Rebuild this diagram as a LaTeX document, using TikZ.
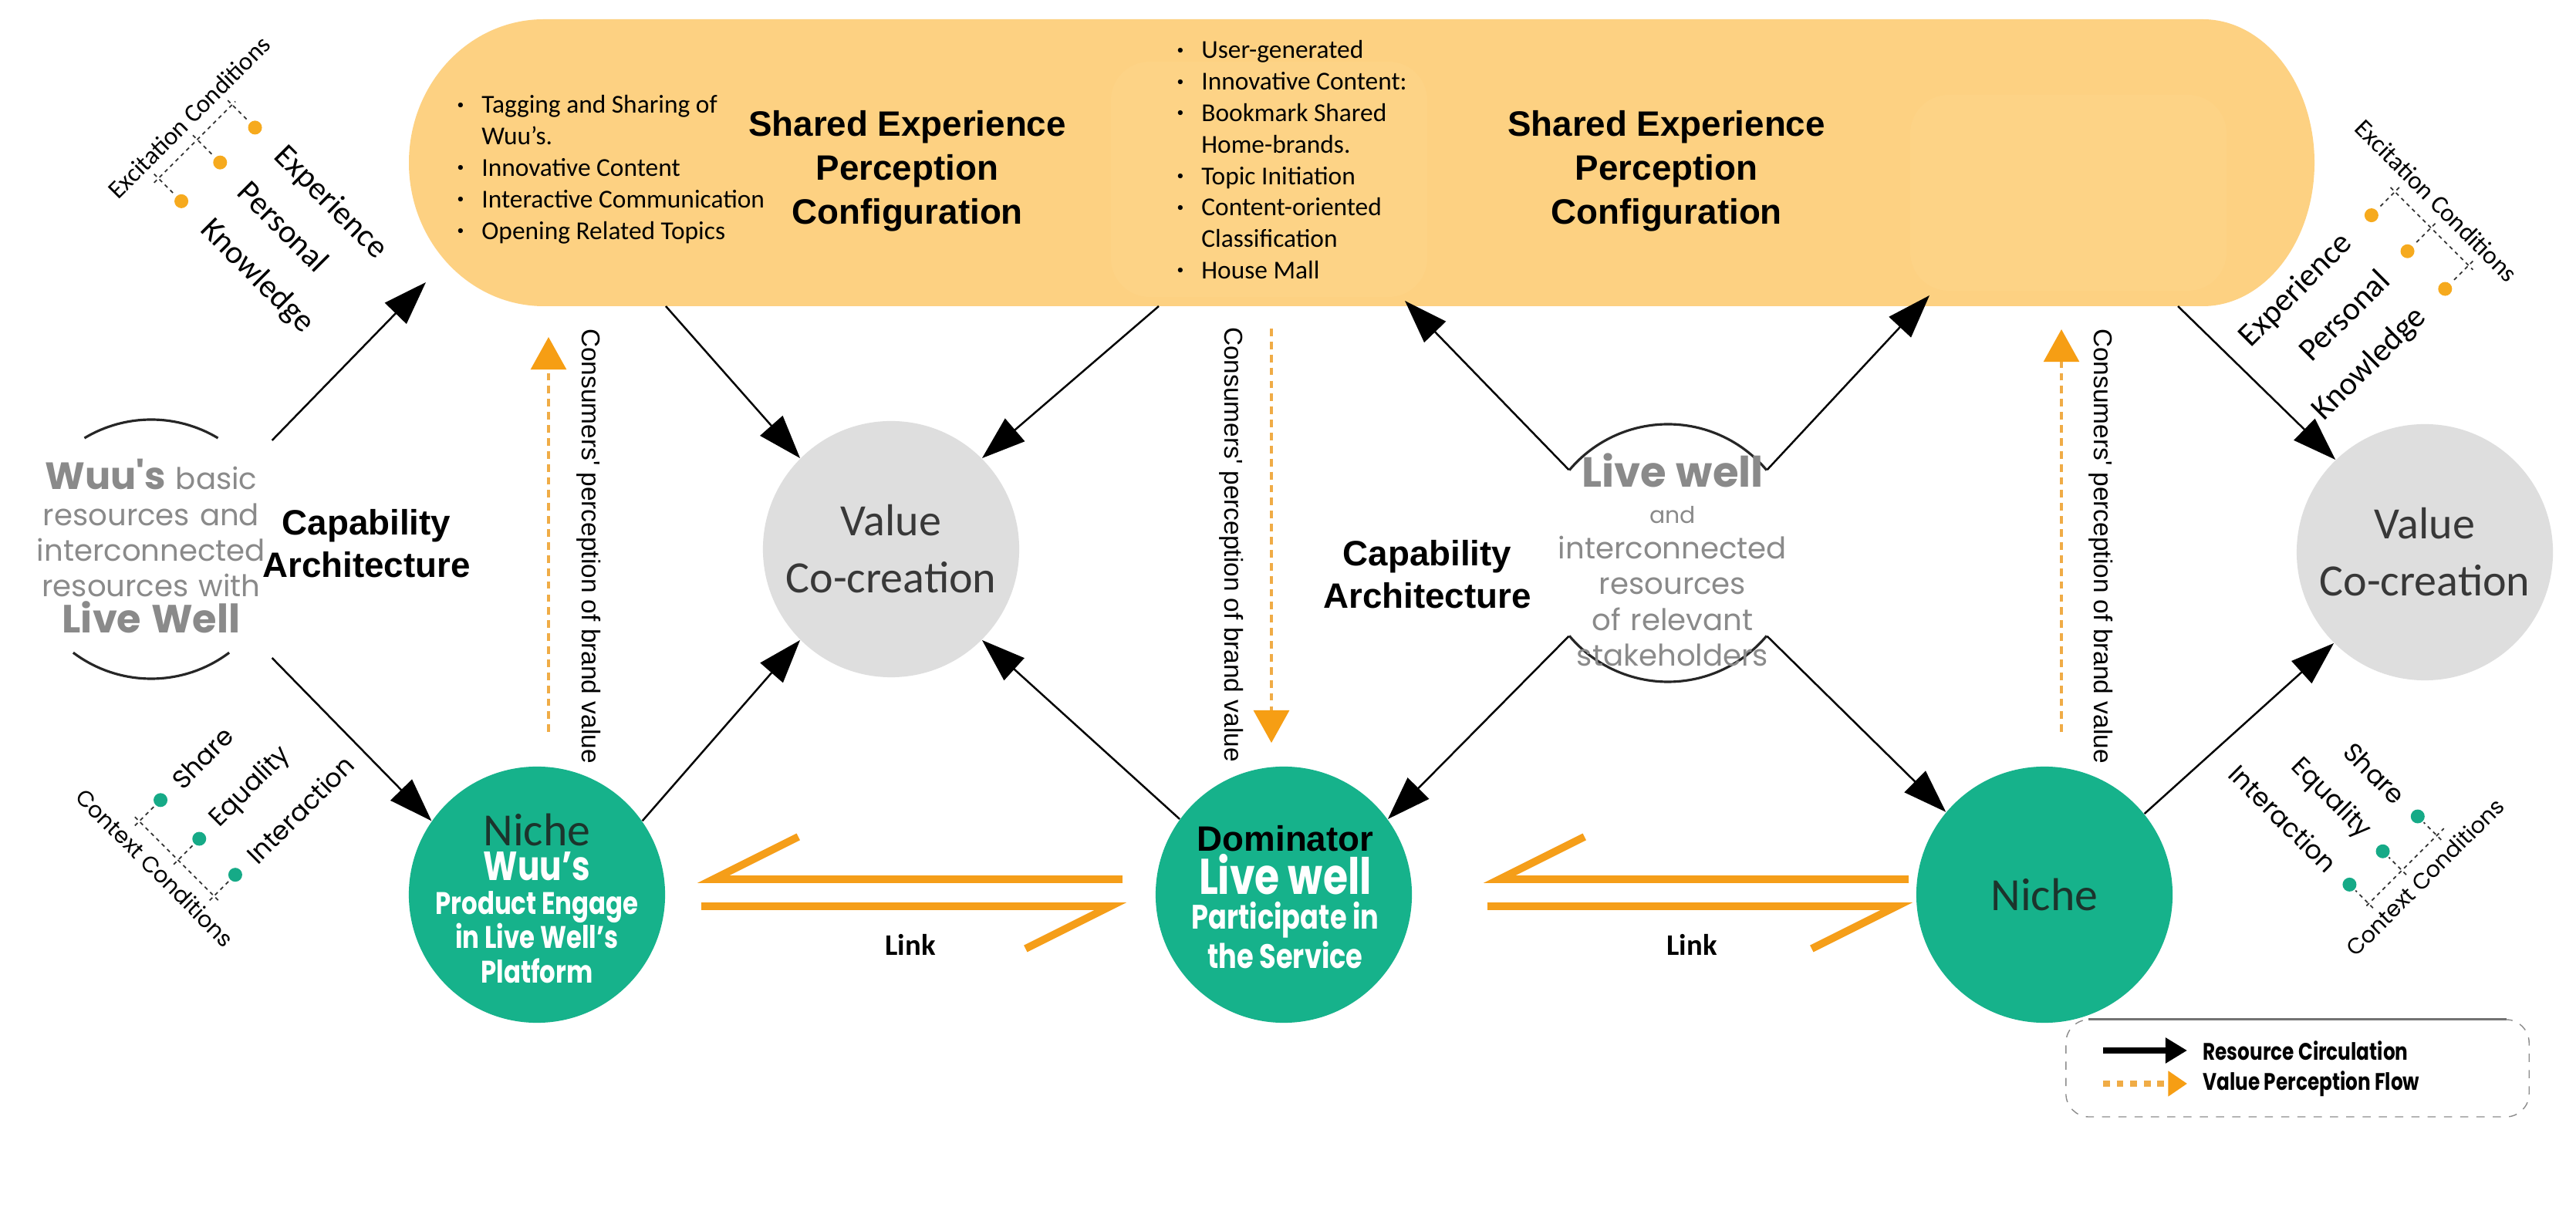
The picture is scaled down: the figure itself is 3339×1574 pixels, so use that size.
\documentclass[tikz,border=0pt]{standalone}
\usepackage{fontspec}
\setmainfont{Carlito}
\newfontfamily\arialfont{Liberation Sans}
\newfontfamily\gothfont{Poppins}
\newfontfamily\gothcond[FakeStretch=0.8]{Poppins}
\usetikzlibrary{arrows.meta,calc,positioning}

\definecolor{bandfill}{RGB}{253,209,130}
\definecolor{bandlight}{RGB}{253,211,134}
\definecolor{nichefill}{RGB}{22,178,139}
\definecolor{vcfill}{RGB}{222,222,222}
\definecolor{vphead}{RGB}{246,158,20}
\definecolor{vpdash}{RGB}{240,172,70}
\definecolor{linkfill}{RGB}{245,158,25}
\definecolor{restext}{RGB}{138,138,138}
\definecolor{nichetext}{RGB}{28,52,44}
\definecolor{exdot}{RGB}{246,170,30}
\definecolor{ctdot}{RGB}{22,170,135}

\newcommand\lbul{\makebox[9pt][l]{\raisebox{0.35ex}{\fontsize{5}{5}\selectfont\textbullet}}}

\tikzstyle{res}=[draw=black, line width=0.7pt, -{Triangle[length=16pt,width=11pt]}]
\tikzstyle{vpf}=[draw=vpdash, line width=1.2pt, dash pattern=on 2.8pt off 2pt, -{Triangle[length=12pt,width=13pt,color=vphead]}]
\tikzstyle{linkarr}=[draw=linkfill, line width=2.8pt, -{Straight Barb[harpoon,swap,length=1.1cm,width=1.1cm]}]
\tikzstyle{arcline}=[draw=black!85, line width=0.9pt]
\tikzstyle{bracket}=[draw=black!80, line width=0.5pt, dash pattern=on 1.4pt off 1.4pt]
\tikzstyle{vcnode}=[circle, fill=vcfill, minimum size=3.32cm, inner sep=0pt]
\tikzstyle{nichenode}=[circle, fill=nichefill, minimum size=3.32cm, inner sep=0pt]
\tikzstyle{resnode}=[circle, minimum size=3.34cm, inner sep=0pt]
\tikzstyle{sepc}=[font=\arialfont\bfseries\fontsize{13}{16.2}\selectfont, align=center]
\tikzstyle{capab}=[font=\arialfont\bfseries\fontsize{13}{15.6}\selectfont, align=center]
\tikzstyle{bullets}=[font=\fontsize{9.5}{11.6}\selectfont, align=left, anchor=north west, inner sep=0pt]
\tikzstyle{restxt}=[font=\gothfont\fontsize{11}{13.2}\selectfont, text=restext, align=center, inner sep=0pt]
\tikzstyle{vctxt}=[font=\fontsize{16.5}{21}\selectfont, text=black!78, align=center]
\tikzstyle{nichetxt}=[font=\gothcond\bfseries\fontsize{11.5}{12.6}\selectfont, text=white, align=center, inner sep=0pt]
\tikzstyle{vptext}=[font=\arialfont\fontsize{9.5}{10}\selectfont, rotate=-90]
\tikzstyle{excit}=[font=\fontsize{9.4}{10}\selectfont, inner sep=0pt]
\tikzstyle{exword}=[font=\fontsize{12}{12}\selectfont, inner sep=0pt]
\tikzstyle{ctxt}=[font=\gothfont\fontsize{8.2}{9}\selectfont, inner sep=0pt]
\tikzstyle{ctword}=[font=\gothfont\fontsize{9.5}{10}\selectfont, inner sep=0pt]
\tikzstyle{linklbl}=[font=\bfseries\fontsize{11}{12}\selectfont]
\tikzstyle{legbox}=[draw=black!45, dashed, rounded corners=0.3cm, minimum width=6.0cm, minimum height=1.26cm, inner sep=0pt]
\tikzstyle{legtext}=[font=\gothcond\bfseries\fontsize{8.8}{9}\selectfont, anchor=west]

\begin{document}
\begin{tikzpicture}[x=0.01cm, y=0.01cm]
  \useasboundingbox (0,0) rectangle (3339,-1574);
  \fill[white] (0,0) rectangle (3339,-1574);

  % shared experience band
  \fill[bandfill] (705,-25) -- (2855,-25) arc[start angle=90, end angle=-90, x radius=145, y radius=186]
    -- (705,-397) arc[start angle=270, end angle=90, x radius=175, y radius=186] -- cycle;
  \fill[bandlight, rounded corners=0.5cm] (1440,-80) rectangle (1850,-385);
  \fill[bandlight, rounded corners=0.5cm] (2476,-123) rectangle (2886,-377);

  \node[bullets] (listA) at (592,-123) {\lbul Tagging and Sharing of\\ \hspace*{9pt}Wuu's.\\ \lbul Innovative Content\\ \lbul Interactive Communication\\ \lbul Opening Related Topics};
  \node[sepc] (sepcA) at (1176,-222) {Shared Experience\\ Perception\\ Configuration};
  \node[bullets] (listB) at (1525,-52) {\lbul User-generated\\ \lbul Innovative Content:\\ \lbul Bookmark Shared\\ \hspace*{9pt}Home-brands.\\ \lbul Topic Initiation\\ \lbul Content-oriented\\ \hspace*{9pt}Classification\\ \lbul House Mall};
  \node[sepc] (sepcB) at (2160,-222) {Shared Experience\\ Perception\\ Configuration};

  \coordinate (bA) at (552,-366);
  \coordinate (bB) at (863,-397);
  \coordinate (bC) at (1502,-397);
  \coordinate (bD) at (1821,-390);
  \coordinate (bE) at (2501,-383);
  \coordinate (bF) at (2823,-397);

  % resource nodes
  \node[resnode, minimum size=4.2cm] (wuu) at (196,-712) {};
  \draw[arcline] (wuu.center) ++(59:168) arc[start angle=59, end angle=121, radius=168];
  \draw[arcline] (wuu.center) ++(233:168) arc[start angle=233, end angle=307, radius=168];
  \node[restxt, text width=3.2cm] (wuuT) at (196,-708) {{\bfseries\fontsize{14}{14}\selectfont Wuu's} basic\\ resources and\\ interconnected\\ resources with\\ {\bfseries\fontsize{14.5}{14}\selectfont Live Well}};
  \node[capab] (capA) at (475,-705) {Capability\\ Architecture};

  \node[resnode] (live) at (2162,-717) {};
  \draw[arcline] (live.center) ++(40:167) arc[start angle=40, end angle=140, radius=167];
  \draw[arcline] (live.center) ++(220:167) arc[start angle=220, end angle=320, radius=167];
  \node[restxt, text width=3.2cm] (liveT) at (2168,-726) {{\bfseries\fontsize{15.5}{15}\selectfont Live well}\\ {\fontsize{8.5}{9}\selectfont and}\\ interconnected\\ resources\\ of relevant\\ stakeholders};
  \node[capab] (capB) at (1850,-745) {Capability\\ Architecture};

  % value co-creation
  \node[vcnode] (vcA) at (1155,-712) {};
  \node[vctxt] (vcAT) at (vcA) {Value\\ Co-creation};
  \node[vcnode] (vcB) at (3143,-716) {};
  \node[vctxt] (vcBT) at (vcB) {Value\\ Co-creation};

  % actors
  \node[nichenode] (nicheA) at (696,-1160) {};
  \node[nichetxt] (nicheAT) at (696,-1165) {{\normalfont\fontsize{17}{18}\selectfont\color{nichetext}Niche}\\ {\fontsize{15}{15}\selectfont Wuu’s}\\ Product Engage\\ in Live Well’s\\ Platform};
  \node[nichenode] (dom) at (1664,-1160) {};
  \node[nichetxt, font=\gothcond\bfseries\fontsize{12.5}{12.8}\selectfont] (domT) at (1666,-1163) {{\arialfont\bfseries\fontsize{13}{14}\selectfont\color{black}Dominator}\\ {\fontsize{18.5}{18}\selectfont Live well}\\ Participate in\\ the Service};
  \node[nichenode] (nicheB) at (2650,-1160) {};
  \node[font=\fontsize{17}{18}\selectfont, text=nichetext] (nicheBT) at (nicheB) {Niche};

  % resource circulation
  \draw[res] (wuu.42) -- (bA);
  \draw[res] (wuu.-42) -- (nicheA.145);
  \draw[res] (bB) -- (vcA.135);
  \draw[res] (bC) -- (vcA.45);
  \draw[res] (nicheA.35) -- (vcA.225);
  \draw[res] (dom.144) -- (vcA.-45);
  \draw[res] (live.140) -- (bD);
  \draw[res] (live.40) -- (bE);
  \draw[res] (live.220) -- (dom.36);
  \draw[res] (live.320) -- (nicheB.140);
  \draw[res] (bF) -- (vcB.134);
  \draw[res] (nicheB.39) -- (vcB.225);

  % value perception flow
  \coordinate (vA) at (711,-437);
  \coordinate (vB) at (1648,-426);
  \coordinate (vC) at (2672,-427);
  \draw[vpf, shorten <=0.44cm] (nicheA.north -| vA) -- (vA);
  \draw[vpf, shorten >=0.3cm] (vB) -- (dom.north -| vB);
  \draw[vpf, shorten <=0.44cm] (nicheB.north -| vC) -- (vC);
  \node[vptext] (vtA) at (763,-708) {Consumers' perception of brand value};
  \node[vptext] (vtB) at (1596,-706) {Consumers' perception of brand value};
  \node[vptext] (vtC) at (2723,-708) {Consumers' perception of brand value};

  % links
  \draw[linkarr, shorten <=0.42cm, shorten >=0.41cm] ([yshift=0.2cm]dom.west) -- ([yshift=0.2cm]nicheA.east);
  \draw[linkarr, shorten <=0.46cm, shorten >=0.37cm] ([yshift=-0.15cm]nicheA.east) -- ([yshift=-0.15cm]dom.west);
  \draw[linkarr, shorten <=0.09cm, shorten >=0.92cm] ([yshift=0.2cm]nicheB.west) -- ([yshift=0.2cm]dom.east);
  \draw[linkarr, shorten <=0.97cm, shorten >=0.04cm] ([yshift=-0.15cm]dom.east) -- ([yshift=-0.15cm]nicheB.west);
  \node[linklbl] (lkA) at ($(nicheA.east)!0.5!(dom.west)+(0,-65)$) {Link};
  \node[linklbl] (lkB) at ($(dom.east)!0.5!(nicheB.west)+(36,-65)$) {Link};

  % excitation conditions
  \begin{scope}[shift={(245,-152)}, rotate=45]
    \node[excit, rotate=45] (excA) at (0,0) {Excitation Conditions};
    \draw[bracket] (-92,-28) -- (57,-28);
    \foreach \u/\w/\n in {-84/Knowledge/kA, -13/Personal/pA, 51/Experience/eA} {
      \draw[bracket] (\u,-20) -- (\u,-58);
      \fill[exdot] (\u,-70) circle (9);
      \node[exword, rotate=-45, anchor=west] (\n) at (\u,-113) {\w};
    }
  \end{scope}
  \begin{scope}[shift={(3158,-260)}, rotate=-45]
    \node[excit, rotate=-45] (excB) at (0,0) {Excitation Conditions};
    \draw[bracket] (-54,-30) -- (97,-30);
    \foreach \u/\w/\n in {-46/Experience/eB, 20/Personal/pB, 89/Knowledge/kB} {
      \draw[bracket] (\u,-22) -- (\u,-60);
      \fill[exdot] (\u,-73) circle (9);
      \node[exword, rotate=45, anchor=east] (\n) at (\u,-116) {\w};
    }
  \end{scope}

  % context conditions
  \begin{scope}[shift={(201,-1125)}, rotate=-45]
    \node[ctxt, rotate=-45] (ctxA) at (0,0) {Context Conditions};
    \draw[bracket] (-65,28) -- (90,28);
    \foreach \u/\w/\n in {-57/Share/sA, 14/Equality/qA, 80/Interaction/iA} {
      \draw[bracket] (\u,20) -- (\u,56);
      \fill[ctdot] (\u,67) circle (9);
      \node[ctword, rotate=45, anchor=west] (\n) at (\u,95) {\w};
    }
  \end{scope}
  \begin{scope}[shift={(3143,-1137)}, rotate=45]
    \node[ctxt, rotate=45] (ctxB) at (0,0) {Context Conditions};
    \draw[bracket] (-80,27) -- (62,27);
    \foreach \u/\w/\n in {49/Share/sB, -15/Equality/qB, -76/Interaction/iB} {
      \draw[bracket] (\u,19) -- (\u,51);
      \fill[ctdot] (\u,62) circle (9);
      \node[ctword, rotate=-45, anchor=east] (\n) at (\u,92) {\w};
    }
  \end{scope}

  % legend
  \node[legbox] (legend) at (2978,-1385) {};
  \draw[black!55, line width=0.8pt] ([xshift=0.3cm]legend.north west) -- ([xshift=-0.3cm]legend.north east);
  \coordinate (lgR1) at (2726,-1362);
  \coordinate (lgR2) at (2835,-1362);
  \coordinate (lgV1) at (2726,-1405);
  \coordinate (lgV2) at (2835,-1405);
  \draw[line width=2pt, -{Triangle[length=8pt,width=9pt]}] (lgR1) -- (lgR2);
  \draw[vpdash, line width=2.5pt, dash pattern=on 2.5pt off 2.5pt, -{Triangle[length=7pt,width=9pt,color=vphead]}] (lgV1) -- (lgV2);
  \node[legtext] (lgRt) at (2843,-1362) {Resource Circulation};
  \node[legtext] (lgVt) at (2843,-1405) {Value Perception Flow};
\end{tikzpicture}
\end{document}
